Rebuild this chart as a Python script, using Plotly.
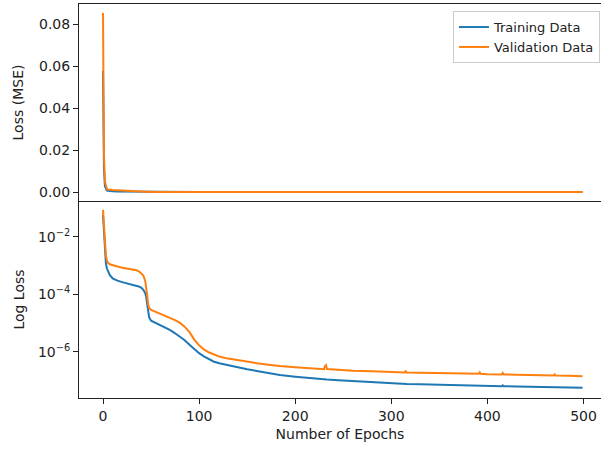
import plotly.graph_objects as go

epochs = [0, 1, 2, 3, 4, 5, 7, 10, 15, 20, 25, 30, 35, 38, 40, 42, 44, 45, 46, 47, 48, 50,
          55, 60, 65, 70, 75, 80, 85, 90, 95, 100, 105, 110, 115, 121, 130, 140, 150, 160,
          172, 184, 200, 215, 230, 231, 232, 233, 245, 260, 280, 300, 314, 315, 316, 330,
          350, 370, 391, 392, 393, 400, 415, 416, 417, 430, 450, 469, 470, 471, 485, 499]

train_log10 = [-1.237, -1.95, -2.55, -2.92, -3.10, -3.20, -3.33, -3.45, -3.53, -3.58, -3.62,
               -3.65, -3.70, -3.74, -3.78, -3.85, -3.97, -4.10, -4.35, -4.62, -4.80, -4.92,
               -5.00, -5.07, -5.15, -5.25, -5.36, -5.48, -5.60, -5.76, -5.92, -6.05, -6.16,
               -6.26, -6.34, -6.40, -6.47, -6.55, -6.61, -6.67, -6.74, -6.81, -6.87, -6.92,
               -6.96, -6.95, -6.96, -6.97, -6.99, -7.02, -7.06, -7.10, -7.12, -7.11, -7.12,
               -7.13, -7.15, -7.17, -7.18, -7.17, -7.19, -7.19, -7.20, -7.17, -7.20, -7.21,
               -7.22, -7.23, -7.21, -7.23, -7.24, -7.25]

val_log10 = [-1.068, -1.75, -2.30, -2.65, -2.82, -2.90, -2.96, -3.00, -3.04, -3.08, -3.11,
             -3.13, -3.17, -3.22, -3.27, -3.35, -3.55, -3.75, -4.05, -4.35, -4.48, -4.55,
             -4.62, -4.68, -4.75, -4.82, -4.90, -5.00, -5.13, -5.32, -5.58, -5.78, -5.92,
             -6.02, -6.10, -6.17, -6.24, -6.30, -6.35, -6.40, -6.45, -6.50, -6.54, -6.58,
             -6.61, -6.50, -6.47, -6.60, -6.63, -6.66, -6.68, -6.70, -6.72, -6.66, -6.72,
             -6.73, -6.74, -6.76, -6.77, -6.72, -6.77, -6.78, -6.79, -6.74, -6.79, -6.80,
             -6.82, -6.83, -6.79, -6.83, -6.84, -6.85]

train_loss = [10 ** v for v in train_log10]
val_loss = [10 ** v for v in val_log10]

series_names = ["Training Data", "Validation Data"]
colors = ["#1f77b4", "#ff7f0e"]

log_tick_vals = [1e-2, 1e-4, 1e-6]
log_tick_text = ["10<sup>−2</sup>", "10<sup>−4</sup>", "10<sup>−6</sup>"]
lin_tick_vals = [0.0, 0.02, 0.04, 0.06, 0.08]
lin_tick_text = ["0.00", "0.02", "0.04", "0.06", "0.08"]
x_tick_vals = [0, 100, 200, 300, 400, 500]

FONT = "DejaVu Sans"
fig = go.Figure()

for name, ys, col in zip(series_names, [train_loss, val_loss], colors):
    fig.add_trace(go.Scatter(x=epochs, y=ys, mode="lines", name=name,
                             line=dict(color=col, width=2), xaxis="x", yaxis="y",
                             showlegend=True))
for name, ys, col in zip(series_names, [train_loss, val_loss], colors):
    fig.add_trace(go.Scatter(x=epochs, y=ys, mode="lines", name=name,
                             line=dict(color=col, width=2), xaxis="x2", yaxis="y2",
                             showlegend=False))

axis_common = dict(showline=True, linecolor="#222222", linewidth=1, showgrid=False,
                   zeroline=False, ticks="outside", ticklen=5, tickcolor="#222222",
                   tickfont=dict(family=FONT, size=14, color="#222222"))

fig.update_layout(
    width=601, height=451,
    margin=dict(l=79, r=0, t=4, b=53),
    paper_bgcolor="white", plot_bgcolor="white",
    font=dict(family=FONT, size=14, color="#222222"),
    xaxis=dict(domain=[0, 1], anchor="y", range=[-24.97, 518.2], showline=True,
               linecolor="#222222", linewidth=1, mirror=True, showgrid=False,
               zeroline=False, showticklabels=False, ticks="", matches="x2"),
    yaxis=dict(domain=[0.5, 1], anchor="x", range=[-0.00427, 0.0898],
               tickvals=lin_tick_vals, ticktext=lin_tick_text,
               title=dict(text="Loss (MSE)", font=dict(family=FONT, size=14), standoff=12),
               **axis_common),
    xaxis2=dict(domain=[0, 1], anchor="y2", range=[-24.97, 518.2], mirror=False,
                tickvals=x_tick_vals,
                title=dict(text="Number of Epochs", font=dict(family=FONT, size=14), standoff=6),
                **axis_common),
    yaxis2=dict(domain=[0, 0.5], anchor="x2", type="log", range=[-7.61, -0.76],
                tickvals=log_tick_vals, ticktext=log_tick_text,
                title=dict(text="Log Loss", font=dict(family=FONT, size=14), standoff=10),
                **axis_common),
    legend=dict(x=0.998, xanchor="right", y=0.982, yanchor="top",
                bgcolor="rgba(255,255,255,0.8)", bordercolor="#cccccc", borderwidth=1,
                font=dict(family=FONT, size=13), tracegroupgap=0, itemwidth=30),
)

fig.write_html("out.html", config={"displayModeBar": False},
               post_script="document.body.style.margin='0';")
